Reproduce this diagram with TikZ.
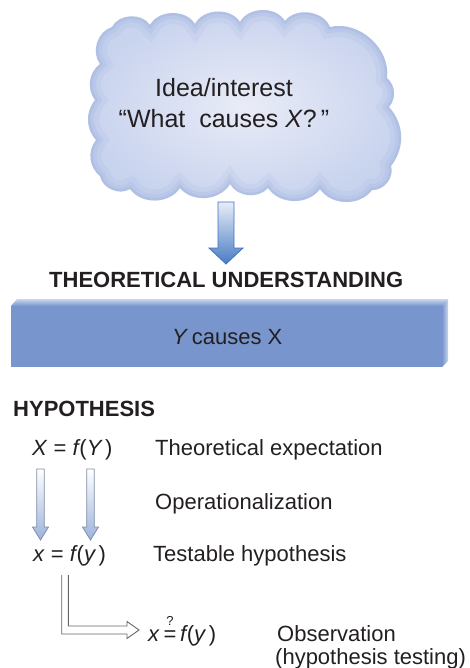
\documentclass[tikz,border=0pt]{standalone}
\usepackage{fontspec}
\setmainfont{Liberation Sans}
\definecolor{cloudlight}{HTML}{E9ECF7}
\definecolor{cloudmid}{HTML}{C8D3EE}
\definecolor{clouddark}{HTML}{8CA3D8}
\definecolor{boxblue}{HTML}{7896CD}
\definecolor{boxlight}{HTML}{CAD6EE}
\definecolor{arrowblue}{HTML}{4A7CC4}
\definecolor{arrowedge}{HTML}{3F74C0}
\definecolor{arrowpale}{HTML}{E8EDF7}
\definecolor{smallblue}{HTML}{9DB2DB}
\definecolor{smalledge}{HTML}{7F8FA8}
\definecolor{txt}{HTML}{231F20}
\tikzset{
  lbl/.style={font=\fontsize{22}{26}\selectfont, text=txt, inner sep=0pt, anchor=base west},
  ttl/.style={font=\fontsize{22}{26}\selectfont\bfseries, text=txt, inner sep=0pt, anchor=base west},
  cloudtxt/.style={font=\fontsize{25}{31}\selectfont, text=txt, inner sep=0pt, anchor=base},
  smallarrow/.style={top color=white, bottom color=smallblue, draw=smalledge, line width=0.8pt},
  dblarrow/.style={draw=black!60, line width=0.9pt, line join=miter}
}
\def\cloudpath{(100,64) to[bend left=55] (112,27) to[bend left=60] (150,25) to[bend left=60] (195,24) to[bend left=60] (240,22) to[bend left=60] (285,21) to[bend left=60] (330,27) to[bend left=55] (387,78) to[bend left=45] (389,107) to[bend left=40] (391,166) to[bend left=55] (372,190) to[bend left=55] (320,189) to[bend left=55] (268,188) to[bend left=55] (230,184) to[bend left=55] (180,188) to[bend left=55] (130,189) to[bend left=55] (100,176) to[bend left=45] (96,140) to[bend left=40] (95,100) to[bend left=45] cycle}
\newcommand{\ff}{\textit{f}\kern-1.2pt}
\begin{document}
\begin{tikzpicture}[x=1pt,y=-1pt]
\useasboundingbox (0,0) rectangle (470,668);
% cloud
\shade[inner color=cloudlight, outer color=cloudmid] \cloudpath;
\begin{scope}
  \clip \cloudpath;
  \draw[clouddark, line width=22pt, opacity=0.10] \cloudpath;
  \draw[clouddark, line width=12pt, opacity=0.15] \cloudpath;
  \draw[clouddark, line width=5pt, opacity=0.2] \cloudpath;
\end{scope}
\node[cloudtxt] (idea) at (224,97) {Idea/interest};
\node[cloudtxt] (what) at (224,128) {``What\ \ causes \textit{X}?\,''};
% big arrow
\coordinate (cloudbot) at (226,202);
\coordinate (theotop) at (226,264);
\shade[top color=arrowpale, bottom color=arrowblue, draw=arrowedge, line width=0.8pt]
  (218,202) -- (234,202) -- (234,248) -- (243,248) -- (theotop) -- (209,248) -- (218,248) -- cycle;
% theoretical understanding
\node[ttl] (theo) at (49,287) {THEORETICAL UNDERSTANDING};
\shade[top color=boxlight, bottom color=boxblue] (11,306) -- (17,299) -- (448,299) -- (442,306) -- cycle;
\shade[left color=boxblue, right color=boxlight] (442,306) -- (448,299) -- (448,361) -- (442,367) -- cycle;
\fill[boxblue] (11,306) rectangle (442,367);
\node[lbl] (ycx) at (172,344) {\textit{Y}\,causes X};
% hypothesis
\node[ttl] (hyp) at (13,416) {HYPOTHESIS};
\node[lbl] (XfY) at (32,455) {\textit{X} = \ff(\textit{Y\,})};
\node[lbl] (theoexp) at (155,455) {Theoretical expectation};
\node[lbl] (oper) at (155,509) {Operationalization};
\node[lbl] (xfy) at (33,561) {\textit{x} = \ff(\textit{y\,})};
\node[lbl] (testable) at (153,561) {Testable hypothesis};
\node[lbl] (obsx) at (148,641) {\textit{x}\,\ooalign{=\cr\hidewidth\raisebox{1.3ex}{\fontsize{13}{13}\selectfont ?}\hidewidth\cr}\,\ff(\textit{y\,})};
\node[lbl] (obs) at (277,641) {Observation};
\node[lbl] (obs2) at (275,664) {(hypothesis testing)};
% small arrows
\coordinate (a1) at (40.5,540);
\coordinate (a2) at (90.5,540);
\path[smallarrow] (36.7,469) -- (44.3,469) -- (44.3,527) -- (48.5,527) -- (a1) -- (32.5,527) -- (36.7,527) -- cycle;
\path[smallarrow] (86.7,469) -- (94.3,469) -- (94.3,527) -- (98.5,527) -- (a2) -- (82.5,527) -- (86.7,527) -- cycle;
% double L arrow
\coordinate (ltip) at (139,630);
\draw[dblarrow] (61.7,575) -- (61.7,634) -- (127,634) -- (127,638.5) -- (ltip) -- (127,621.5) -- (127,626) -- (68.3,626) -- (68.3,575);
\end{tikzpicture}
\end{document}
